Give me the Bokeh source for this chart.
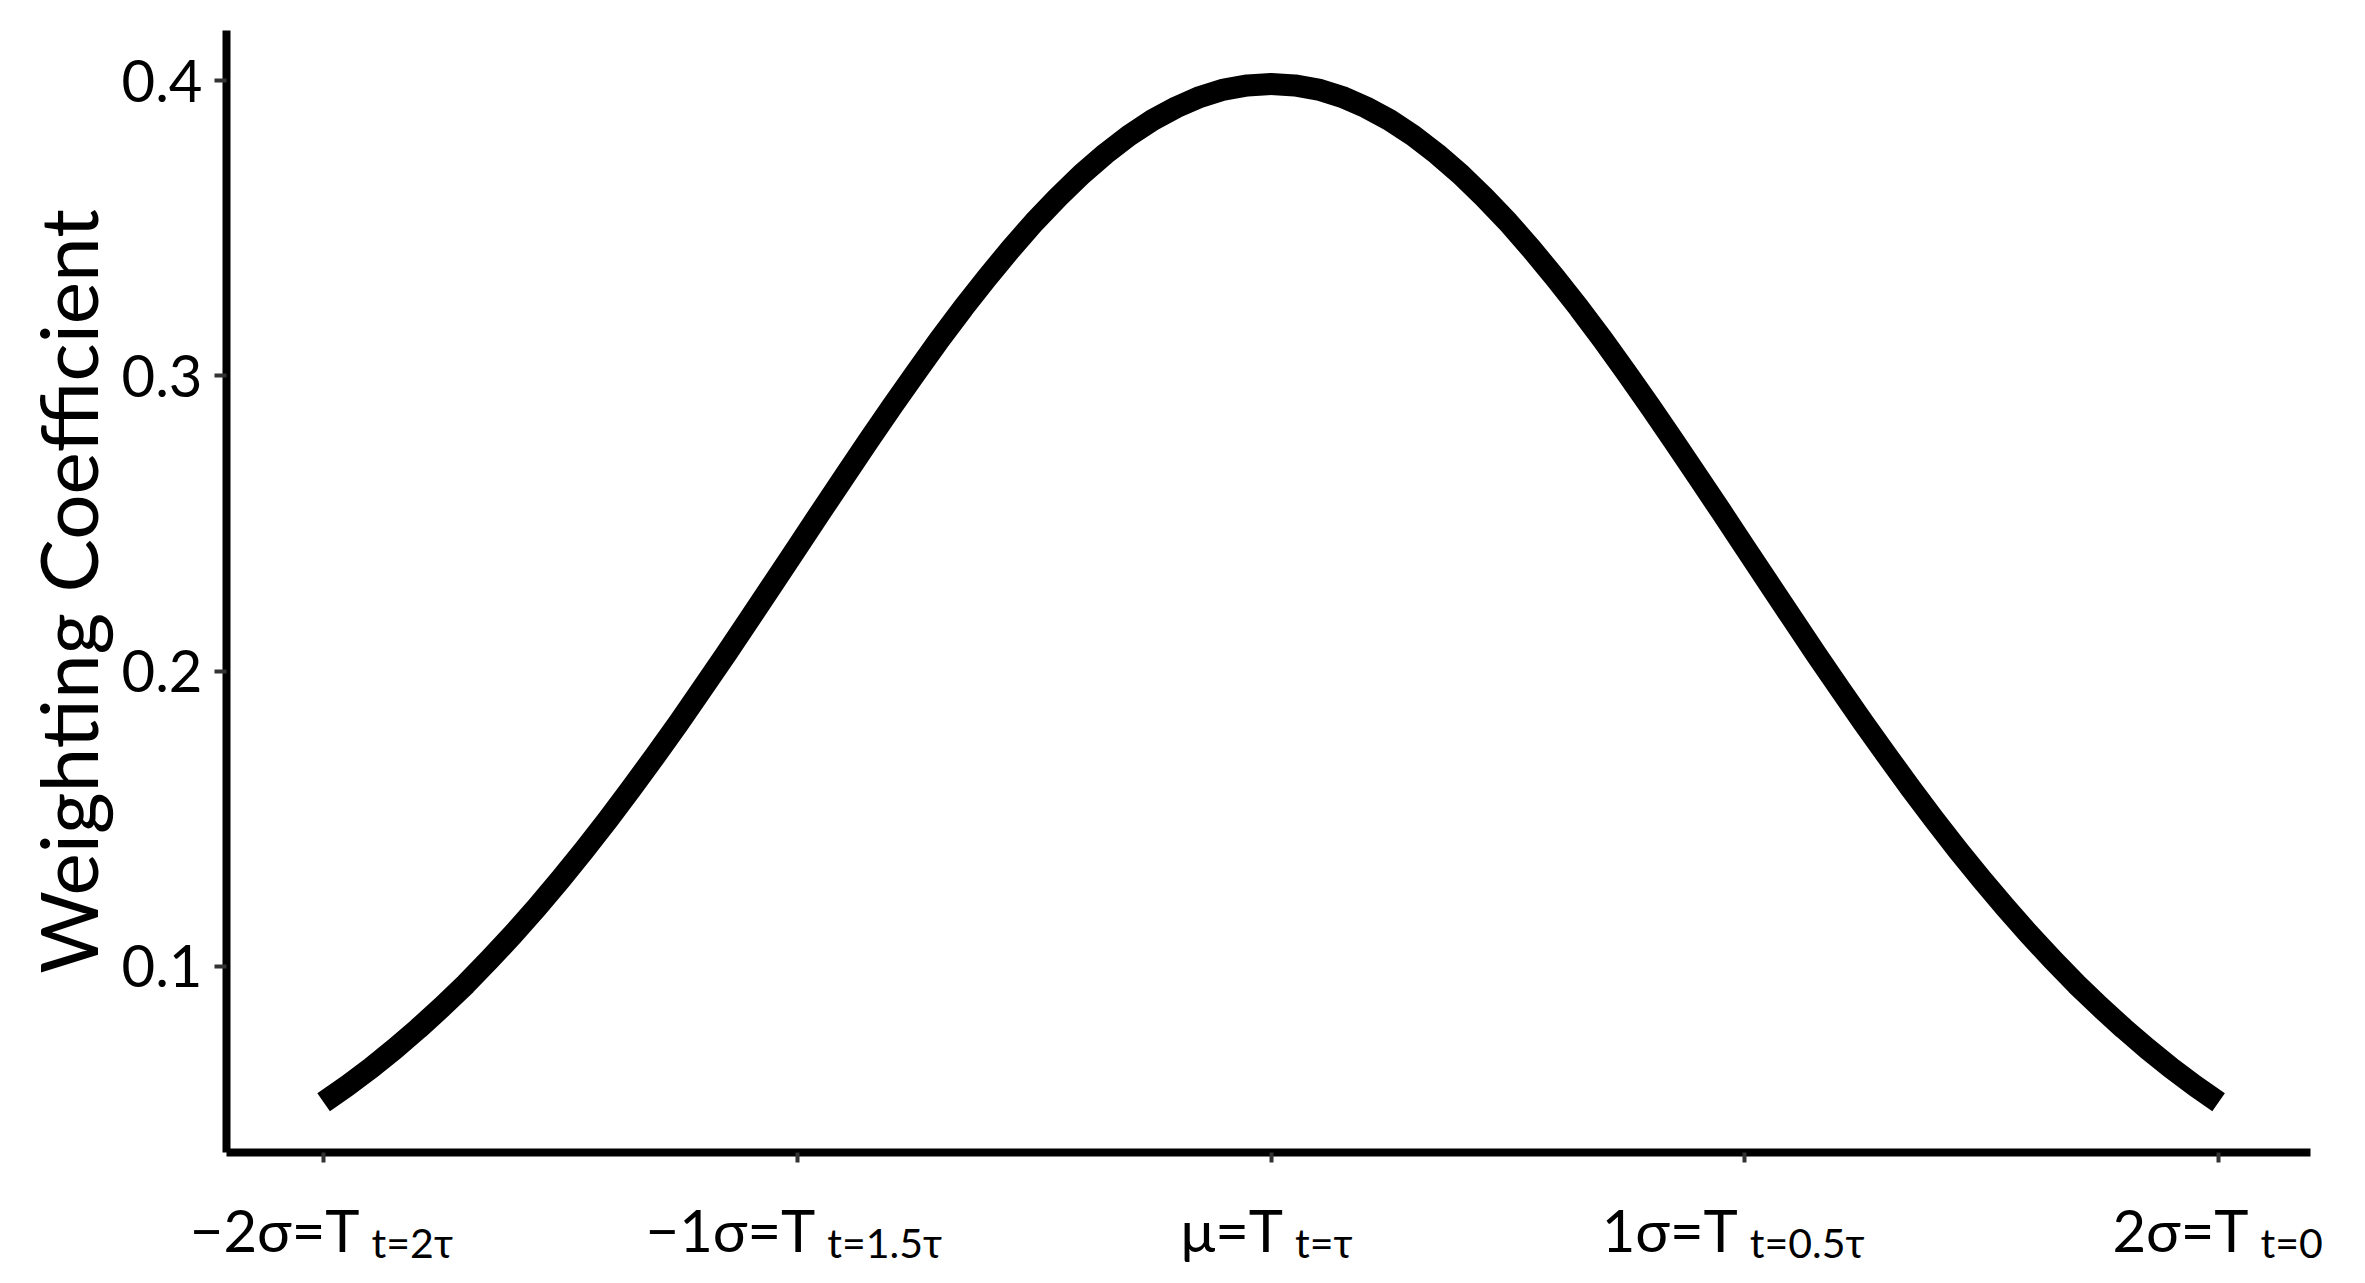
from bokeh.plotting import figure
from bokeh.models import Range1d, FixedTicker, Label
from bokeh.layouts import column
from bokeh.embed import file_html
from bokeh.resources import INLINE

# ---- data ----
x_vals = [-2.00, -1.95, -1.90, -1.85, -1.80, -1.75, -1.70, -1.65, -1.60, -1.55,
          -1.50, -1.45, -1.40, -1.35, -1.30, -1.25, -1.20, -1.15, -1.10, -1.05,
          -1.00, -0.95, -0.90, -0.85, -0.80, -0.75, -0.70, -0.65, -0.60, -0.55,
          -0.50, -0.45, -0.40, -0.35, -0.30, -0.25, -0.20, -0.15, -0.10, -0.05,
          0.00, 0.05, 0.10, 0.15, 0.20, 0.25, 0.30, 0.35, 0.40, 0.45,
          0.50, 0.55, 0.60, 0.65, 0.70, 0.75, 0.80, 0.85, 0.90, 0.95,
          1.00, 1.05, 1.10, 1.15, 1.20, 1.25, 1.30, 1.35, 1.40, 1.45,
          1.50, 1.55, 1.60, 1.65, 1.70, 1.75, 1.80, 1.85, 1.90, 1.95, 2.00]
y_vals = [0.0540, 0.0596, 0.0656, 0.0721, 0.0790, 0.0863, 0.0940, 0.1023, 0.1109, 0.1200,
          0.1295, 0.1394, 0.1497, 0.1604, 0.1714, 0.1826, 0.1942, 0.2059, 0.2179, 0.2299,
          0.2420, 0.2541, 0.2661, 0.2780, 0.2897, 0.3011, 0.3123, 0.3230, 0.3332, 0.3429,
          0.3521, 0.3605, 0.3683, 0.3752, 0.3814, 0.3867, 0.3910, 0.3945, 0.3970, 0.3984,
          0.3989, 0.3984, 0.3970, 0.3945, 0.3910, 0.3867, 0.3814, 0.3752, 0.3683, 0.3605,
          0.3521, 0.3429, 0.3332, 0.3230, 0.3123, 0.3011, 0.2897, 0.2780, 0.2661, 0.2541,
          0.2420, 0.2299, 0.2179, 0.2059, 0.1942, 0.1826, 0.1714, 0.1604, 0.1497, 0.1394,
          0.1295, 0.1200, 0.1109, 0.1023, 0.0940, 0.0863, 0.0790, 0.0721, 0.0656, 0.0596, 0.0540]

x_ticks = [-2, -1, 0, 1, 2]
x_tick_main = ["\u22122\u03c3=T", "\u22121\u03c3=T", "\u03bc=T", "1\u03c3=T", "2\u03c3=T"]
x_tick_sub = ["t=2\u03c4", "t=1.5\u03c4", "t=\u03c4", "t=0.5\u03c4", "t=0"]
y_ticks = [0.1, 0.2, 0.3, 0.4]
y_label = "Weighting Coefficient"

FONT = "Lato"

W = 2349
H_MAIN = 1182
H_LAB = 1267 - H_MAIN
BL, BR, BT, BB = 226, 39, 30, 30
X0, X1 = -2.205, 2.194

p = figure(width=W, height=H_MAIN, output_backend="svg", toolbar_location=None,
           x_range=Range1d(X0, X1), y_range=Range1d(0.037, 0.417))
p.frame_align = False
p.min_border_left = BL
p.min_border_right = BR
p.min_border_top = BT
p.min_border_bottom = BB
p.outline_line_color = None
p.xgrid.visible = False
p.ygrid.visible = False
p.background_fill_color = "white"
p.border_fill_color = "white"

p.line(x_vals, y_vals, line_width=22, line_color="black", line_join="round")

for ax in (p.xaxis[0], p.yaxis[0]):
    ax.axis_line_color = "black"
    ax.axis_line_width = 8
    ax.major_tick_line_color = "#333333"
    ax.major_tick_line_width = 4
    ax.major_tick_in = 0
    ax.minor_tick_line_color = None

p.xaxis.ticker = FixedTicker(ticks=x_ticks)
p.xaxis.major_tick_out = 10
p.xaxis.major_label_overrides = {t: "" for t in x_ticks}
p.xaxis.major_label_text_font_size = "1px"

p.yaxis.ticker = FixedTicker(ticks=y_ticks)
p.yaxis.major_tick_out = 12
p.yaxis.major_label_standoff = 12
p.yaxis.major_label_text_font = FONT
p.yaxis.major_label_text_font_size = "58px"
p.yaxis.major_label_text_color = "black"
p.yaxis.axis_label = y_label
p.yaxis.axis_label_text_font = FONT
p.yaxis.axis_label_text_font_size = "80px"
p.yaxis.axis_label_text_font_style = "normal"
p.yaxis.axis_label_text_color = "black"
p.yaxis.axis_label_standoff = 4

# strip below the plot carrying the x tick labels (with subscripts),
# using the same x scale as the main frame, extended over the borders
frame_w = W - BL - BR
span = X1 - X0
q = figure(width=W, height=H_LAB, output_backend="svg", toolbar_location=None,
           x_range=Range1d(X0 - BL / frame_w * span, X1 + BR / frame_w * span),
           y_range=Range1d(0, H_LAB), x_axis_location=None, y_axis_location=None,
           min_border_left=0, min_border_right=0, min_border_top=0, min_border_bottom=0)
q.frame_align = False
q.outline_line_color = None
q.xgrid.visible = False
q.ygrid.visible = False
q.background_fill_color = "white"
q.border_fill_color = "white"

main_right = [36, 18, 12, -7, 30]
for t, m, s, off in zip(x_ticks, x_tick_main, x_tick_sub, main_right):
    q.add_layout(Label(x=t, y=H_LAB - 47, x_offset=off, text=m,
                       text_align="right", text_baseline="alphabetic",
                       text_font=FONT, text_font_size="58px", text_color="black"))
    q.add_layout(Label(x=t, y=H_LAB - 60, x_offset=off + 12, text=s,
                       text_align="left", text_baseline="alphabetic",
                       text_font=FONT, text_font_size="41px", text_color="black"))

layout = column(p, q, spacing=0)
open("out.html", "w").write(file_html(layout, INLINE))
